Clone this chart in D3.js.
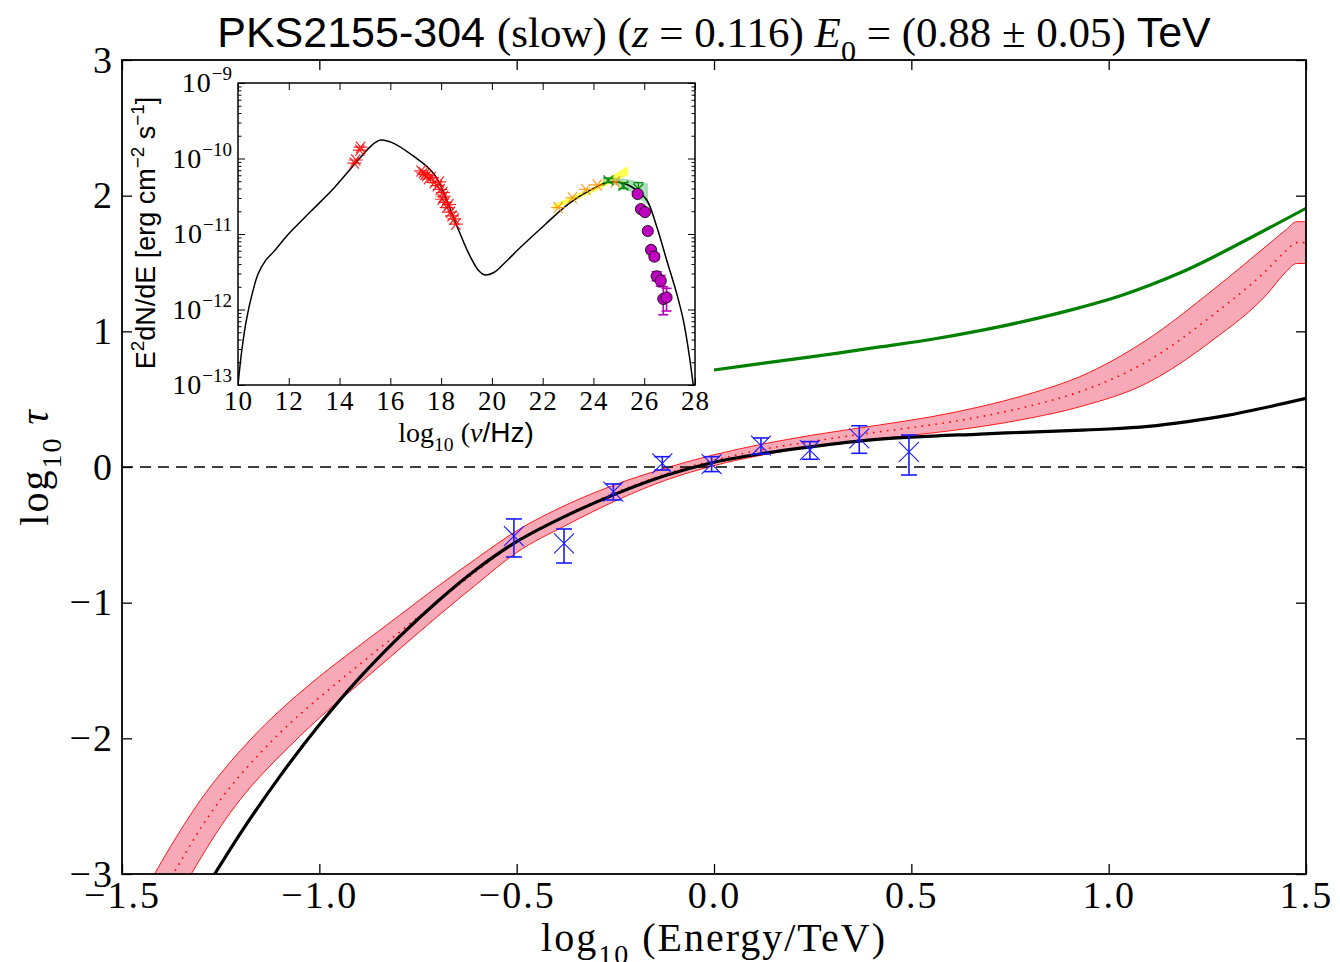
<!DOCTYPE html>
<html>
<head>
<meta charset="utf-8">
<script src="https://cdn.jsdelivr.net/npm/d3@7"></script>
<style>
  body { margin: 0; background: #fff; }
  svg { display: block; }
</style>
</head>
<body>
<div id="chart"></div>
<script>
// ---- main panel data (log10 E [TeV] vs log10 tau) ----
const mainXTicks = [-1.5, -1.0, -0.5, 0.0, 0.5, 1.0, 1.5];
const mainYTicks = [-3, -2, -1, 0, 1, 2, 3];

// EBL band: shared x grid, upper / lower edges and dotted centre
const bandX     = [-1.45, -1.40, -1.35, -1.30, -1.25, -1.20, -1.15, -1.10, -1.00, -0.90, -0.80, -0.70, -0.60, -0.50, -0.375, -0.25, -0.125, 0.0, 0.125, 0.25, 0.42, 0.55, 0.674, 0.80, 0.927, 1.096, 1.264, 1.40, 1.45, 1.476, 1.50];
const bandUpper = [-3.17, -2.91, -2.67, -2.45, -2.26, -2.09, -1.935, -1.795, -1.545, -1.32, -1.10, -0.88, -0.67, -0.47, -0.28, -0.13, -0.01, 0.09, 0.17, 0.235, 0.31, 0.37, 0.444, 0.54, 0.666, 0.936, 1.305, 1.63, 1.75, 1.808, 1.808];
const bandLower = [-3.70, -3.40, -3.13, -2.88, -2.65, -2.45, -2.28, -2.13, -1.85, -1.60, -1.35, -1.10, -0.86, -0.63, -0.43, -0.25, -0.10, 0.01, 0.09, 0.15, 0.21, 0.25, 0.297, 0.36, 0.444, 0.617, 0.936, 1.27, 1.44, 1.50, 1.50];
const bandMid   = [-3.43, -3.15, -2.90, -2.66, -2.45, -2.27, -2.11, -1.96, -1.70, -1.46, -1.225, -0.99, -0.765, -0.55, -0.355, -0.19, -0.055, 0.05, 0.13, 0.19, 0.26, 0.31, 0.37, 0.45, 0.555, 0.776, 1.12, 1.45, 1.595, 1.654, 1.654];

// model curves
const blackX = [-1.30, -1.264, -1.20, -1.10, -1.00, -0.90, -0.80, -0.70, -0.60, -0.50, -0.375, -0.25, -0.125, 0.0, 0.125, 0.25, 0.42, 0.674, 0.90, 1.00, 1.10, 1.20, 1.30, 1.40, 1.50];
const blackY = [-3.16, -2.995, -2.70, -2.28, -1.90, -1.56, -1.26, -0.99, -0.75, -0.55, -0.36, -0.20, -0.065, 0.035, 0.10, 0.15, 0.205, 0.243, 0.268, 0.28, 0.30, 0.335, 0.38, 0.44, 0.506];
const greenX = [0.0, 0.15, 0.31, 0.42, 0.549, 0.674, 0.788, 0.927, 1.028, 1.18, 1.267, 1.50];
const greenY = [0.715, 0.775, 0.838, 0.885, 0.94, 1.005, 1.075, 1.175, 1.26, 1.43, 1.55, 1.907];

// measured points with error bars
const ptX  = [-0.507, -0.380, -0.255, -0.131, -0.006, 0.119, 0.243, 0.368, 0.494];
const ptY  = [-0.509, -0.563, -0.182, 0.027, 0.022, 0.157, 0.125, 0.211, 0.112];
const ptHi = [-0.383, -0.457, -0.125, 0.076, 0.076, 0.214, 0.187, 0.304, 0.236];
const ptLo = [-0.663, -0.708, -0.243, -0.022, -0.034, 0.096, 0.057, 0.101, -0.059];

// ---- inset SED data (log10 nu [Hz] vs log10 E^2dN/dE) ----
const sedXTicks = [10, 12, 14, 16, 18, 20, 22, 24, 26, 28];
const sedYExp = [-13, -12, -11, -10, -9];
const sedCurveX = [10.0, 10.15, 10.33, 10.56, 10.79, 11.09, 11.39, 11.99, 12.90, 13.81, 14.71, 15.32, 15.62, 16.07, 16.83, 17.73, 18.64, 19.09, 19.47, 19.70, 20.08, 20.45, 21.21, 22.11, 23.02, 23.93, 24.61, 25.29, 25.70, 26.10, 26.49, 26.88, 27.28, 27.54, 27.75, 27.93];
const sedCurveY = [-13.0, -12.54, -12.14, -11.79, -11.53, -11.35, -11.24, -11.0, -10.69, -10.38, -10.03, -9.81, -9.756, -9.79, -9.95, -10.21, -10.91, -11.26, -11.48, -11.54, -11.51, -11.40, -11.15, -10.87, -10.60, -10.41, -10.31, -10.34, -10.42, -10.55, -10.90, -11.34, -11.79, -12.14, -12.55, -13.0];
const optX = [14.64, 14.83, 14.58, 14.80];
const optY = [-10.02, -9.85, -10.06, -9.89];
const xrayX = [17.21, 17.36, 17.43, 17.61, 17.73, 17.93, 17.96, 18.07, 18.04, 18.16, 18.22, 18.31, 18.37, 18.43, 18.52, 18.58, 17.30, 17.50, 17.85, 18.10];
const xrayY = [-10.165, -10.21, -10.23, -10.25, -10.32, -10.31, -10.41, -10.45, -10.54, -10.58, -10.65, -10.61, -10.71, -10.76, -10.80, -10.87, -10.19, -10.27, -10.36, -10.50];
const fermiX = [22.61, 23.17, 23.70, 24.15, 24.86];
const fermiY = [-10.65, -10.52, -10.41, -10.35, -10.31];
const yellowX = [22.42, 23.90, 25.37];
const yellowHi = [-10.61, -10.39, -10.10];
const yellowLo = [-10.68, -10.46, -10.22];
const greenBandX = [24.37, 25.30, 26.15];
const greenBandHi = [-10.24, -10.27, -10.33];
const greenBandLo = [-10.30, -10.40, -10.62];
const gPtX = [24.59, 25.18, 25.77];
const gPtY = [-10.29, -10.36, -10.40];
const gPtHi = [-10.26, -10.32, -10.32];
const gPtLo = [-10.32, -10.40, -10.50];
const tevX  = [25.74, 25.87, 26.03, 26.14, 26.27, 26.40, 26.49, 26.65, 26.75, 26.88];
const tevY  = [-10.47, -10.67, -10.71, -10.96, -11.21, -11.30, -11.56, -11.62, -11.86, -11.84];
const tevHi = [-10.44, -10.64, -10.68, -10.93, -11.17, -11.26, -11.50, -11.55, -11.70, -11.72];
const tevLo = [-10.50, -10.70, -10.74, -10.99, -11.25, -11.34, -11.62, -11.69, -12.07, -12.02];

const W = 1340, H = 962;
const SERIF = '"Liberation Serif", "Times New Roman", serif';
const SANS = '"Liberation Sans", Arial, sans-serif';

const svg = d3.select('#chart').append('svg')
  .attr('width', W).attr('height', H)
  .attr('viewBox', `0 0 ${W} ${H}`);

// rich text helper: segments {t, f, it, sub, sup}
function richText(sel, segs, baseSize) {
  let shift = 0;
  segs.forEach(s => {
    const want = s.sub ? baseSize * 0.32 : s.sup ? -baseSize * 0.42 : 0;
    const ts = sel.append('tspan')
      .attr('font-family', s.f === 'sans' ? SANS : SERIF)
      .attr('font-size', s.sub || s.sup ? baseSize * 0.7 : baseSize)
      .attr('dy', want - shift)
      .text(s.t);
    if (s.it) ts.attr('font-style', 'italic');
    shift = want;
  });
}

// ---------- main panel ----------
const x = d3.scaleLinear().domain([-1.5, 1.5]).range([122, 1306]);
const y = d3.scaleLinear().domain([-3, 3]).range([874, 60]);

svg.append('clipPath').attr('id', 'mainClip')
  .append('rect').attr('x', 122).attr('y', 60).attr('width', 1184).attr('height', 814);

const plot = svg.append('g').attr('clip-path', 'url(#mainClip)');

const bandData = bandX.map((v, i) => ({ x: v, hi: bandUpper[i], lo: bandLower[i], mid: bandMid[i] }));
const area = d3.area().x(d => x(d.x)).y0(d => y(d.lo)).y1(d => y(d.hi)).curve(d3.curveMonotoneX);
plot.append('path').datum(bandData).attr('d', area)
  .attr('fill', '#f7a9b8').attr('stroke', 'none');
['hi', 'lo'].forEach(k => {
  plot.append('path').datum(bandData)
    .attr('d', d3.line().x(d => x(d.x)).y(d => y(d[k])).curve(d3.curveMonotoneX))
    .attr('fill', 'none').attr('stroke', '#ff1a1a').attr('stroke-width', 1);
});
plot.append('path').datum(bandData)
  .attr('d', d3.line().x(d => x(d.x)).y(d => y(d.mid)).curve(d3.curveMonotoneX))
  .attr('fill', 'none').attr('stroke', '#ff0000').attr('stroke-width', 1.6)
  .attr('stroke-dasharray', '1.6 5.4');

// zero line
plot.append('line')
  .attr('x1', x(-1.5)).attr('x2', x(1.5)).attr('y1', y(0)).attr('y2', y(0))
  .attr('stroke', '#000').attr('stroke-width', 1.4).attr('stroke-dasharray', '11 7');

const curveLine = d3.line().x(d => x(d[0])).y(d => y(d[1])).curve(d3.curveCatmullRom.alpha(0.5));
plot.append('path').datum(blackX.map((v, i) => [v, blackY[i]])).attr('d', curveLine)
  .attr('fill', 'none').attr('stroke', '#000').attr('stroke-width', 3.2);
plot.append('path').datum(greenX.map((v, i) => [v, greenY[i]])).attr('d', curveLine)
  .attr('fill', 'none').attr('stroke', '#008000').attr('stroke-width', 3.2);

// error bars + x markers
const pts = ptX.map((v, i) => ({ x: v, y: ptY[i], hi: ptHi[i], lo: ptLo[i] }));
const pg = plot.selectAll('.pt').data(pts).enter().append('g')
  .attr('stroke', '#1a1aff').attr('fill', 'none');
pg.append('line').attr('x1', d => x(d.x)).attr('x2', d => x(d.x))
  .attr('y1', d => y(d.hi)).attr('y2', d => y(d.lo)).attr('stroke-width', 1.6);
['hi', 'lo'].forEach(k => {
  pg.append('line').attr('x1', d => x(d.x) - 8).attr('x2', d => x(d.x) + 8)
    .attr('y1', d => y(d[k])).attr('y2', d => y(d[k])).attr('stroke-width', 1.6);
});
pg.append('path').attr('stroke-width', 1.1)
  .attr('d', d => {
    const cx = x(d.x), cy = y(d.y), r = 10;
    return `M${cx - r},${cy - r}L${cx + r},${cy + r}M${cx - r},${cy + r}L${cx + r},${cy - r}`;
  });

// white panel behind the inset (hides main curves there)
svg.append('rect').attr('x', 122).attr('y', 60)
  .attr('width', x(0) - 122).attr('height', 387).attr('fill', '#fff');

// main frame + ticks (inward, all four sides)
const axStyle = g => {
  g.select('.domain').remove();
  g.selectAll('.tick line').attr('stroke', '#000').attr('stroke-width', 1.3);
  g.selectAll('.tick text').attr('font-family', SERIF).attr('font-size', 38)
    .attr('letter-spacing', 2).attr('fill', '#000');
};
svg.append('g').attr('transform', `translate(0,${y(-3)})`)
  .call(d3.axisBottom(x).tickValues(mainXTicks).tickFormat(d3.format('.1f')).tickSize(-10).tickPadding(4))
  .call(axStyle).selectAll('.tick text').attr('dy', '0.8em');
svg.append('g').attr('transform', `translate(0,${y(3)})`)
  .call(d3.axisTop(x).tickValues(mainXTicks).tickFormat('').tickSize(-10))
  .call(axStyle);
svg.append('g').attr('transform', `translate(${x(-1.5)},0)`)
  .call(d3.axisLeft(y).tickValues(mainYTicks).tickFormat(d3.format('d')).tickSize(-10).tickPadding(8))
  .call(axStyle);
svg.append('g').attr('transform', `translate(${x(1.5)},0)`)
  .call(d3.axisRight(y).tickValues(mainYTicks).tickFormat('').tickSize(-10))
  .call(axStyle);
svg.append('rect').attr('x', 122).attr('y', 60).attr('width', 1184).attr('height', 814)
  .attr('fill', 'none').attr('stroke', '#000').attr('stroke-width', 1.8);

// title
const title = svg.append('text').attr('x', 714).attr('y', 47).attr('text-anchor', 'middle').attr('fill', '#000');
richText(title, [
  { t: 'PKS2155-304 ', f: 'sans' },
  { t: '(slow) (' }, { t: 'z', it: true }, { t: ' = 0.116) ' },
  { t: 'E', it: true }, { t: '0', sub: true }, { t: ' = (0.88 \u00b1 0.05) ' },
  { t: 'TeV', f: 'sans' }
], 43);

// axis labels
const xl = svg.append('text').attr('x', 714).attr('y', 951).attr('text-anchor', 'middle').attr('letter-spacing', 2);
richText(xl, [{ t: 'log' }, { t: '10', sub: true }, { t: ' (Energy/TeV)' }], 40);
const yl = svg.append('text').attr('transform', 'translate(48,467) rotate(-90)').attr('text-anchor', 'middle').attr('letter-spacing', 2);
richText(yl, [{ t: 'log' }, { t: '10', sub: true }, { t: ' \u03c4', it: true }], 40);

// ---------- inset SED ----------
const ix = d3.scaleLinear().domain([10, 28]).range([238, 695]);
const iy = d3.scaleLog().domain([1e-13, 1e-9]).range([385, 83]);
const ey = e => iy(Math.pow(10, e));

svg.append('clipPath').attr('id', 'insetClip')
  .append('rect').attr('x', 238).attr('y', 83).attr('width', 457).attr('height', 302);
const inset = svg.append('g').attr('clip-path', 'url(#insetClip)');

const bandPoly = (xs, hi, lo) => {
  const top = xs.map((v, i) => [ix(v), ey(hi[i])]);
  const bot = xs.map((v, i) => [ix(v), ey(lo[i])]).reverse();
  return 'M' + top.concat(bot).join('L') + 'Z';
};
inset.append('path').attr('d', bandPoly(yellowX, yellowHi, yellowLo))
  .attr('fill', '#ffff1a').attr('opacity', 0.75);
inset.append('path').attr('d', bandPoly(greenBandX, greenBandHi, greenBandLo))
  .attr('fill', '#5cc47a').attr('opacity', 0.55);

inset.append('path').datum(sedCurveX.map((v, i) => [v, sedCurveY[i]]))
  .attr('d', d3.line().x(d => ix(d[0])).y(d => ey(d[1])).curve(d3.curveCatmullRom.alpha(0.5)))
  .attr('fill', 'none').attr('stroke', '#000').attr('stroke-width', 1.5);

// asterisk markers
const star = (cx, cy, r) =>
  `M${cx - r},${cy}L${cx + r},${cy}M${cx - r * 0.65},${cy - r * 0.8}L${cx + r * 0.65},${cy + r * 0.8}M${cx - r * 0.65},${cy + r * 0.8}L${cx + r * 0.65},${cy - r * 0.8}`;
const starSet = (xs, ys, color, r) => {
  inset.append('g').selectAll('path').data(xs.map((v, i) => [v, ys[i]])).enter().append('path')
    .attr('d', d => star(ix(d[0]), ey(d[1]), r))
    .attr('stroke', color).attr('stroke-width', 1.2).attr('opacity', 0.85).attr('fill', 'none');
};
starSet(optX, optY, '#ff0000', 7);
starSet(xrayX, xrayY, '#ff0000', 7);
starSet(fermiX, fermiY, '#ff8c00', 7);

// green points with error bars
const gp = inset.append('g').attr('stroke', '#0a8a0a').attr('fill', 'none').attr('stroke-width', 1.3)
  .selectAll('g').data(gPtX.map((v, i) => ({ x: v, y: gPtY[i], hi: gPtHi[i], lo: gPtLo[i] }))).enter().append('g');
gp.append('line').attr('x1', d => ix(d.x)).attr('x2', d => ix(d.x)).attr('y1', d => ey(d.hi)).attr('y2', d => ey(d.lo));
['hi', 'lo'].forEach(k => gp.append('line').attr('x1', d => ix(d.x) - 5).attr('x2', d => ix(d.x) + 5)
  .attr('y1', d => ey(d[k])).attr('y2', d => ey(d[k])));
gp.append('path').attr('d', d => {
  const cx = ix(d.x), cy = ey(d.y), r = 5;
  return `M${cx - r},${cy - r}L${cx + r},${cy + r}M${cx - r},${cy + r}L${cx + r},${cy - r}`;
});

// TeV points (magenta circles)
const tev = tevX.map((v, i) => ({ x: v, y: tevY[i], hi: tevHi[i], lo: tevLo[i] }));
const tg = inset.append('g').attr('stroke', '#c000c0').attr('stroke-width', 1.6);
tg.selectAll('.eb').data(tev).enter().append('line')
  .attr('x1', d => ix(d.x)).attr('x2', d => ix(d.x)).attr('y1', d => ey(d.hi)).attr('y2', d => ey(d.lo));
['hi', 'lo'].forEach(k => tg.selectAll('.cap' + k).data(tev).enter().append('line')
  .attr('x1', d => ix(d.x) - 5).attr('x2', d => ix(d.x) + 5).attr('y1', d => ey(d[k])).attr('y2', d => ey(d[k])));
inset.append('g').selectAll('circle').data(tev).enter().append('circle')
  .attr('cx', d => ix(d.x)).attr('cy', d => ey(d.y)).attr('r', 5.6)
  .attr('fill', '#bf00bf').attr('stroke', '#000').attr('stroke-width', 0.8);

// inset axes (inward ticks on all sides)
const iaxStyle = g => {
  g.select('.domain').remove();
  g.selectAll('.tick line').attr('stroke', '#000').attr('stroke-width', 1);
  g.selectAll('.tick text').attr('font-family', SERIF).attr('font-size', 27)
    .attr('letter-spacing', 1).attr('fill', '#000');
};
const minorVals = [];
sedYExp.slice(0, -1).forEach(e => { for (let m = 2; m <= 9; m++) minorVals.push(m * Math.pow(10, e)); });
const majorVals = sedYExp.map(e => Math.pow(10, e));

svg.append('g').attr('transform', `translate(0,385)`)
  .call(d3.axisBottom(ix).tickValues(sedXTicks).tickFormat(d3.format('d')).tickSize(-7).tickPadding(5))
  .call(iaxStyle).selectAll('.tick text').attr('dy', '0.75em');
svg.append('g').attr('transform', `translate(0,83)`)
  .call(d3.axisTop(ix).tickValues(sedXTicks).tickFormat('').tickSize(-7)).call(iaxStyle);
[[238, d3.axisLeft], [695, d3.axisRight]].forEach(([px, ax]) => {
  svg.append('g').attr('transform', `translate(${px},0)`)
    .call(ax(iy).tickValues(majorVals).tickFormat('').tickSize(-7)).call(iaxStyle);
  svg.append('g').attr('transform', `translate(${px},0)`)
    .call(ax(iy).tickValues(minorVals).tickFormat('').tickSize(-3.5)).call(iaxStyle);
});
// y tick labels 10^n
const ylab = svg.append('g').selectAll('text').data(sedYExp).enter().append('text')
  .attr('x', 232).attr('y', d => ey(d) + 9).attr('text-anchor', 'end').attr('fill', '#000');
ylab.append('tspan').attr('font-family', SERIF).attr('font-size', 28).attr('letter-spacing', 1).text('10');
ylab.append('tspan').attr('font-family', SERIF).attr('font-size', 19).attr('dy', -12)
  .text(d => d3.format('d')(d));
svg.append('rect').attr('x', 238).attr('y', 83).attr('width', 457).attr('height', 302)
  .attr('fill', 'none').attr('stroke', '#000').attr('stroke-width', 1.5);

// inset labels
const ixl = svg.append('text').attr('x', 466).attr('y', 442).attr('text-anchor', 'middle');
richText(ixl, [{ t: 'log' }, { t: '10', sub: true }, { t: ' (' }, { t: '\u03bd', it: true }, { t: '/Hz)', f: 'sans' }], 28);
const iyl = svg.append('text').attr('transform', 'translate(155,233) rotate(-90)').attr('text-anchor', 'middle');
richText(iyl, [
  { t: 'E', f: 'sans' }, { t: '2', f: 'sans', sup: true }, { t: 'dN/dE [erg cm', f: 'sans' },
  { t: '\u22122', f: 'sans', sup: true }, { t: ' s', f: 'sans' }, { t: '\u22121', f: 'sans', sup: true }, { t: ']', f: 'sans' }
], 27);
</script>
</body>
</html>
